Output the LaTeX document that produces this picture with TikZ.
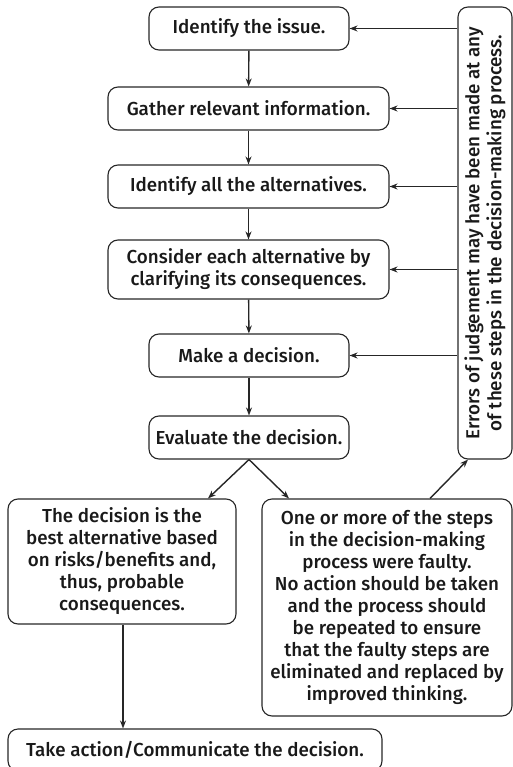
\documentclass[tikz,border=0pt]{standalone}
\usepackage{fontspec}
\setmainfont{Fira Sans}[UprightFont={* Medium}]
\usetikzlibrary{arrows.meta}
\begin{document}
\begin{tikzpicture}[x=1pt,y=-1pt,
  box/.style={draw=black!85, line width=1.1pt, rounded corners=10pt, align=center, inner sep=0pt, font=\fontsize{18.8}{22}\selectfont, text=black!90},
  arr/.style={-{Stealth[length=8pt,width=6pt]}, line width=1.4pt, draw=black!85}]
\useasboundingbox (0,0) rectangle (513,767);
\node[box, minimum width=200, minimum height=43] (b1) at (249,28.5) {Identify the issue.};
\node[box, minimum width=281, minimum height=43] (b2) at (248.5,108.5) {Gather relevant information.};
\node[box, minimum width=281, minimum height=43] (b3) at (248.5,186.5) {Identify all the alternatives.};
\node[box, minimum width=281, minimum height=59] (b4) at (248.5,269.5) {Consider each alternative by\\clarifying its consequences.};
\node[box, minimum width=200, minimum height=43] (b5) at (249,355.5) {Make a decision.};
\node[box, minimum width=200, minimum height=43] (b6) at (249,437.5) {Evaluate the decision.};
\node[box, minimum width=228, minimum height=125] (b7) at (122,561.5) {The decision is the\\best alternative based\\on risks/benefits and,\\thus, probable\\consequences.};
\node[box, minimum width=250, minimum height=217] (b8) at (387,607.5) {One or more of the steps\\in the decision-making\\process were faulty.\\No action should be taken\\and the process should\\be repeated to ensure\\that the faulty steps are\\eliminated and replaced by\\improved thinking.};
\node[box, minimum width=374, minimum height=42] (b9) at (195,750) {Take action/Communicate the decision.};
\node[box, minimum width=452, minimum height=54, rotate=90] (err) at (485,233) {Errors of judgement may have been made at any\\of these steps in the decision-making process.};
\draw[arr] (b1) -- (b2);
\draw[arr] (b2) -- (b3);
\draw[arr] (b3) -- (b4);
\draw[arr] (b4) -- (b5);
\draw[arr] (b5) -- (b6);
\coordinate (c7) at (208,498);
\coordinate (c8) at (289,498);
\draw[arr] (b6.south) -- (b7.north -| c7);
\draw[arr] (b6.south) -- (b8.north -| c8);
\coordinate (s8) at (430,498);
\coordinate (e8) at (468,460);
\draw[arr] (b8.north -| s8) -- (err.west -| e8);
\coordinate (s7) at (123,498);
\draw[arr] (b7.south -| s7) -- (b9.north -| s7);
\foreach \b in {b1,b2,b3,b4,b5}{
  \draw[arr] (err.north |- \b.east) -- (\b.east);
}
\end{tikzpicture}
\end{document}
